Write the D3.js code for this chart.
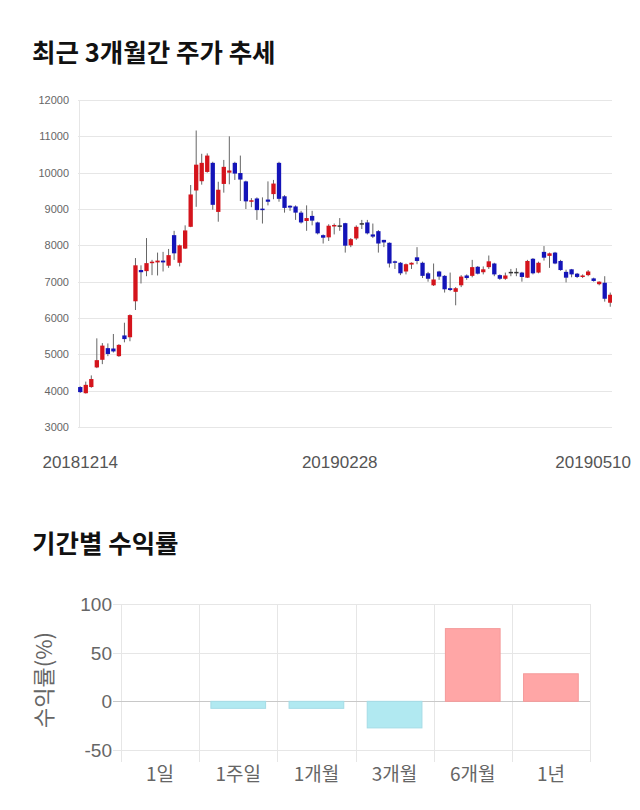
<!DOCTYPE html>
<html>
<head>
<meta charset="utf-8">
<script src="https://cdn.jsdelivr.net/npm/d3@7"></script>
<style>
  html, body { margin: 0; padding: 0; background: #fff; }
  svg { display: block; }
</style>
</head>
<body>
<svg id="chart" width="640" height="810"></svg>
<script>
// ---------- DATA ----------
const openP  = [4100,3930,4100,4640,4850,5170,5160,4950,5520,5470,6460,7320,7290,7510,7530,7580,7440,8280,7520,7910,
                8510,9510,9765,10020,10270,8920,9690,10000,10270,9990,9760,9200,9290,9010,9260,9410,10270,9350,9090,9070,
                8900,8670,8810,8630,8280,8220,8550,8550,8610,8000,8190,8610,8630,8300,8390,8150,8070,7560,7520,7280,
                7470,7670,7520,7230,6900,7280,7160,6820,6720,6900,7170,7160,7410,7260,7400,7500,7180,7080,7270,7270,
                7250,7110,7630,7250,7820,7710,7800,7570,7270,7340,7220,7130,7180,7090,6930,6970,6420];
const highP  = [4120,4250,4420,5440,5310,5300,5560,5280,5870,6100,7650,7450,8200,7600,7800,7820,7900,8400,8020,8550,
                9660,11160,10520,10530,10300,9750,10350,11000,10300,10470,9780,9300,9320,9320,9760,9800,10300,9380,9100,9100,
                8950,9100,8950,8650,8300,8580,8600,8750,8620,8200,8550,8700,8700,8600,8420,8150,8080,7580,7540,7500,
                7530,7950,7550,7270,7500,7300,7180,7250,6850,7180,7200,7600,7430,7420,7720,7520,7200,7250,7350,7370,
                7270,7600,7650,7550,7980,7800,7820,7600,7330,7350,7240,7200,7320,7110,7010,7150,6700];
const lowP   = [3940,3920,4080,4620,4730,4950,5050,4930,5330,5360,6220,6950,7150,7180,7170,7280,7380,7600,7420,7900,
                8500,9060,9670,10000,8980,8650,9450,9680,9800,9220,9000,9050,8700,8600,9100,9270,9200,8900,8950,8700,
                8600,8400,8550,8300,8050,8120,8300,8400,7800,7950,8150,8450,8300,8200,7800,7950,7390,7350,7180,7200,
                7350,7480,7100,7000,6880,7050,6700,6740,6350,6850,7050,7120,7200,7200,7350,7150,7050,7050,7150,7150,
                7000,7100,7200,7230,7580,7380,7480,7300,6980,7120,7100,7100,7150,7000,6900,6450,6310];
const closeP = [3960,4160,4320,4840,5240,5010,5080,5260,5420,6080,7450,7260,7510,7550,7580,7530,7730,7780,8000,8410,
                9400,10220,10270,10470,9115,9530,10160,10060,9975,9810,9210,9240,8970,8970,9200,9700,9280,9030,9040,8900,
                8630,8750,8680,8330,8210,8540,8560,8550,7990,8170,8510,8610,8330,8240,8050,8080,7500,7530,7230,7480,
                7520,7570,7160,7080,7060,7140,6790,6770,6820,7140,7100,7400,7220,7340,7560,7200,7080,7170,7270,7270,
                7130,7570,7230,7520,7660,7780,7500,7320,7110,7200,7130,7170,7280,7020,7000,6530,6640];
const priceTicks = [3000,4000,5000,6000,7000,8000,9000,10000,11000,12000];
const dateLabels = ["20181214","20190228","20190510"];
const dateLabelIdx = [0,47,96];

const periods = ["1일","1주일","1개월","3개월","6개월","1년"];
const returns = [0,-7.2,-7.2,-27.3,74.7,28.3];
const returnTicks = [-50,0,50,100];

// ---------- SETUP ----------
const svg = d3.select("#chart");
const KFONT = "'Noto Sans CJK KR','Noto Sans',sans-serif";
const NFONT = "'Liberation Sans',Arial,sans-serif";

// Titles
svg.append("text").attr("x",32).attr("y",62)
  .attr("font-family",KFONT).attr("font-weight","bold").attr("font-size",25.5).attr("fill","#111")
  .text("최근 3개월간 주가 추세");
svg.append("text").attr("x",32).attr("y",553)
  .attr("font-family",KFONT).attr("font-weight","bold").attr("font-size",25.5).attr("fill","#111")
  .text("기간별 수익률");

// ---------- CANDLE CHART ----------
const cL = 78, cR = 612, cT = 100, cB = 427;
const n = openP.length;
const xC = d3.scaleBand().domain(d3.range(n)).range([77.5, 613]).paddingInner(0.22).paddingOuter(0.11);
const yC = d3.scaleLinear().domain([3000,12000]).range([cB,cT]);

const gC = svg.append("g");
gC.selectAll("line.grid").data(priceTicks).join("line")
  .attr("x1",cL).attr("x2",cR)
  .attr("y1",d=>Math.round(yC(d))+0.5).attr("y2",d=>Math.round(yC(d))+0.5)
  .attr("stroke","#e6e6e6").attr("stroke-width",1);
gC.append("line").attr("x1",cL+1.5).attr("x2",cL+1.5).attr("y1",cT).attr("y2",cB)
  .attr("stroke","#e6e6e6");

gC.selectAll("text.ytick").data(priceTicks).join("text")
  .attr("x",69).attr("y",d=>yC(d)+4)
  .attr("text-anchor","end").attr("font-family",NFONT).attr("font-size",11).attr("fill","#666")
  .text(d=>d);

svg.append("clipPath").attr("id","cclip").append("rect")
  .attr("x",cL).attr("y",cT-20).attr("width",cR-cL).attr("height",cB-cT+40);

const candles = gC.append("g").attr("clip-path","url(#cclip)");
const idx = d3.range(n);
const col = i => closeP[i] > openP[i] ? "#d4141c" : (closeP[i] < openP[i] ? "#1414b8" : "#333");
const bw = xC.bandwidth();
candles.selectAll("line.wick").data(idx).join("line")
  .attr("x1",i=>xC(i)+bw/2).attr("x2",i=>xC(i)+bw/2)
  .attr("y1",i=>yC(highP[i])).attr("y2",i=>yC(lowP[i]))
  .attr("stroke","#666").attr("stroke-width",1);
candles.selectAll("rect.body").data(idx).join("rect")
  .attr("x",i=>xC(i)).attr("width",bw)
  .attr("y",i=>yC(Math.max(openP[i],closeP[i])))
  .attr("height",i=>Math.max(1.5, yC(Math.min(openP[i],closeP[i])) - yC(Math.max(openP[i],closeP[i]))))
  .attr("fill",col);

// date labels
dateLabelIdx.forEach((di,k)=>{
  const t = gC.append("text").attr("y",468)
    .attr("text-anchor","middle").attr("font-family",NFONT).attr("font-size",17).attr("fill","#555")
    .attr("x",xC(di)+bw/2).text(dateLabels[k]);
  const bb = t.node().getBBox();
  if (bb.x + bb.width > 631) t.attr("x", +t.attr("x") - (bb.x + bb.width - 631));
  if (bb.x < 40) t.attr("x", +t.attr("x") + (40 - bb.x));
});

// ---------- RETURNS BAR CHART ----------
const bL = 121, bR = 590, bT = 604, bB = 750;
const xB = d3.scaleBand().domain(periods).range([bL,bR]);
const yB = d3.scaleLinear().domain([-50,100]).range([bB,bT]);
const gB = svg.append("g");

gB.selectAll("line.vgrid").data(d3.range(periods.length+1)).join("line")
  .attr("x1",i=>Math.round(bL + i*xB.step())+0.5).attr("x2",i=>Math.round(bL + i*xB.step())+0.5)
  .attr("y1",bT).attr("y2",bB+12)
  .attr("stroke","#e6e6e6");
gB.selectAll("line.hgrid").data(returnTicks).join("line")
  .attr("x1",bL-8).attr("x2",bR)
  .attr("y1",d=>Math.round(yB(d))+0.5).attr("y2",d=>Math.round(yB(d))+0.5)
  .attr("stroke",d=>d===0?"#c8c8c8":"#e6e6e6");

gB.selectAll("rect.bar").data(periods).join("rect")
  .attr("x",d=>xB(d)+xB.bandwidth()*0.15).attr("width",xB.bandwidth()*0.7)
  .attr("y",(d,i)=>yB(Math.max(0,returns[i])))
  .attr("height",(d,i)=>Math.abs(yB(returns[i])-yB(0)))
  .attr("fill",(d,i)=>returns[i]>=0?"#ffa6a6":"#b1e9f1")
  .attr("stroke",(d,i)=>returns[i]>=0?"#f49a9a":"#a5dce6").attr("stroke-width",1);

gB.selectAll("text.yt").data(returnTicks).join("text")
  .attr("x",112).attr("y",d=>yB(d)+7)
  .attr("text-anchor","end").attr("font-family",NFONT).attr("font-size",19).attr("fill","#666")
  .text(d=>d);
gB.selectAll("text.xt").data(periods).join("text")
  .attr("x",d=>xB(d)+xB.bandwidth()/2).attr("y",781)
  .attr("text-anchor","middle").attr("font-family",KFONT).attr("font-size",19).attr("fill","#666")
  .text(d=>d);
gB.append("text")
  .attr("transform","translate(52,680) rotate(-90)")
  .attr("text-anchor","middle").attr("font-family",KFONT).attr("font-size",22).attr("fill","#666")
  .text("수익률(%)");
</script>
</body>
</html>
